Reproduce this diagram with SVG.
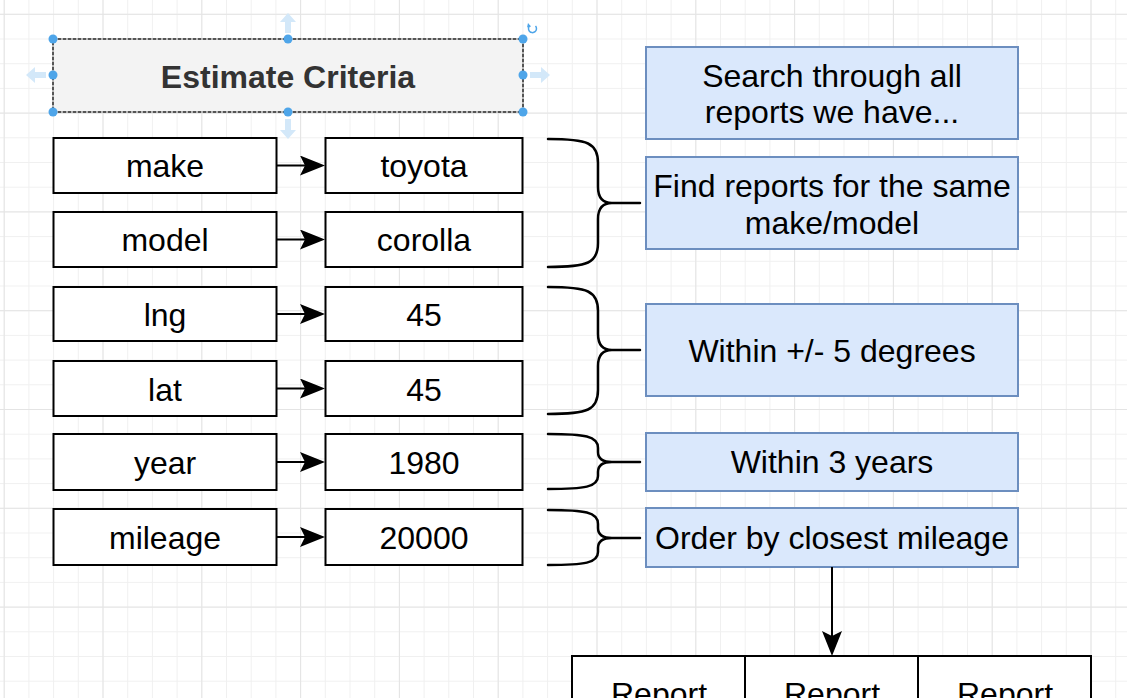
<svg xmlns="http://www.w3.org/2000/svg" width="1127" height="698" viewBox="0 0 1127 698">
<defs>
<style>
.t{font-family:"Liberation Sans",Arial,Helvetica,sans-serif;font-size:32px;fill:#000;text-anchor:middle}
.b{fill:#fff;stroke:#000;stroke-width:2}
.blue{fill:#dae8fc;stroke:#6c8ebf;stroke-width:2}
.ln{fill:none;stroke:#000;stroke-width:2}
.br{fill:none;stroke:#000;stroke-width:2.5;stroke-linecap:round}
.h{fill:#4ea5e9}
.ha{fill:#d3e8f9}
</style>
<pattern id="gm" width="24.7" height="24.7" patternUnits="userSpaceOnUse" x="3.7" y="13.8">
<path d="M0.5,0 V24.7 M0,0.5 H24.7" stroke="#f0f0f0" stroke-width="1" fill="none"/>
</pattern>
<pattern id="gM" width="98.8" height="98.8" patternUnits="userSpaceOnUse" x="3.7" y="13.8">
<path d="M0.5,0 V98.8 M0,0.5 H98.8" stroke="#e4e4e4" stroke-width="1" fill="none"/>
</pattern>
<marker id="ar" markerUnits="userSpaceOnUse" markerWidth="25" markerHeight="20" refX="20" refY="10" orient="auto">
<path d="M0,0 L25,10 L0,20 L5,10 Z" fill="#000"/>
</marker>
</defs>
<rect width="1127" height="698" fill="#fff"/>
<rect width="1127" height="698" fill="url(#gm)"/>
<rect width="1127" height="698" fill="url(#gM)"/>

<g id="estimate-criteria">
<rect x="53" y="39" width="470" height="73" fill="#f3f3f3" stroke="#b5b5b5" stroke-width="2"/>
<rect x="53" y="39" width="470" height="73" fill="none" stroke="#555" stroke-width="2" stroke-dasharray="3 2"/>
<text x="288" y="88" class="t" style="font-weight:bold;fill:#333">Estimate Criteria</text>
</g>

<g id="selection-handles">
<path class="ha" d="M288,13 L296,22 L291,22 L291,33 L285,33 L285,22 L280,22 Z"/>
<path class="ha" d="M288,139 L296,130 L291,130 L291,119 L285,119 L285,130 L280,130 Z"/>
<path class="ha" d="M26,75 L35,67 L35,72 L46,72 L46,78 L35,78 L35,83 Z"/>
<path class="ha" d="M550,75 L541,67 L541,72 L530,72 L530,78 L541,78 L541,83 Z"/>
<circle class="h" cx="53" cy="39" r="4.5"/><circle class="h" cx="288" cy="39" r="4.5"/><circle class="h" cx="523" cy="39" r="4.5"/>
<circle class="h" cx="53" cy="75" r="4.5"/><circle class="h" cx="523" cy="75" r="4.5"/>
<circle class="h" cx="53" cy="112" r="4.5"/><circle class="h" cx="288" cy="112" r="4.5"/><circle class="h" cx="523" cy="112" r="4.5"/>
<path d="M535.5,26 A4,4 0 1 1 530,25.5" fill="none" stroke="#4ea5e9" stroke-width="1.5"/>
<path d="M528,23 L531,26.5 L527,27.5 Z" fill="#4ea5e9"/>
</g>

<g id="make"><rect class="b" x="53.5" y="138" width="223" height="55"/><text class="t" x="165" y="177">make</text></g>
<g id="toyota"><rect class="b" x="325.5" y="138" width="197" height="55"/><text class="t" x="424" y="177">toyota</text></g>
<g id="model"><rect class="b" x="53.5" y="212" width="223" height="55"/><text class="t" x="165" y="251">model</text></g>
<g id="corolla"><rect class="b" x="325.5" y="212" width="197" height="55"/><text class="t" x="424" y="251">corolla</text></g>
<g id="lng"><rect class="b" x="53.5" y="287" width="223" height="54"/><text class="t" x="165" y="326">lng</text></g>
<g id="lng-value"><rect class="b" x="325.5" y="287" width="197" height="54"/><text class="t" x="424" y="326">45</text></g>
<g id="lat"><rect class="b" x="53.5" y="361" width="223" height="55"/><text class="t" x="165" y="401">lat</text></g>
<g id="lat-value"><rect class="b" x="325.5" y="361" width="197" height="55"/><text class="t" x="424" y="401">45</text></g>
<g id="year"><rect class="b" x="53.5" y="434" width="223" height="56"/><text class="t" x="165" y="474">year</text></g>
<g id="year-value"><rect class="b" x="325.5" y="434" width="197" height="56"/><text class="t" x="424" y="474">1980</text></g>
<g id="mileage"><rect class="b" x="53.5" y="509" width="223" height="56"/><text class="t" x="165" y="549">mileage</text></g>
<g id="mileage-value"><rect class="b" x="325.5" y="509" width="197" height="56"/><text class="t" x="424" y="549">20000</text></g>

<g id="search-all"><rect class="blue" x="646" y="47" width="372" height="92"/><text class="t" x="832" y="87">Search through all</text><text class="t" x="832" y="123">reports we have...</text></g>
<g id="same-make-model"><rect class="blue" x="646" y="157" width="372" height="92"/><text class="t" x="832" y="197">Find reports for the same</text><text class="t" x="832" y="234">make/model</text></g>
<g id="within-degrees"><rect class="blue" x="646" y="304" width="372" height="92"/><text class="t" x="832" y="362">Within +/- 5 degrees</text></g>
<g id="within-years"><rect class="blue" x="646" y="433" width="372" height="58"/><text class="t" x="832" y="473">Within 3 years</text></g>
<g id="order-mileage"><rect class="blue" x="646" y="508" width="372" height="59"/><text class="t" x="832" y="549">Order by closest mileage</text></g>

<g id="reports">
<rect class="b" x="572" y="656" width="519" height="70"/>
<path class="ln" d="M745,656 V698 M918,656 V698"/>
<text class="t" x="659" y="705">Report</text>
<text class="t" x="832" y="705">Report</text>
<text class="t" x="1005" y="705">Report</text>
</g>

<g id="connectors">
<path class="ln" d="M277,165.5 H320" marker-end="url(#ar)"/>
<path class="ln" d="M277,239.5 H320" marker-end="url(#ar)"/>
<path class="ln" d="M277,314 H320" marker-end="url(#ar)"/>
<path class="ln" d="M277,388.5 H320" marker-end="url(#ar)"/>
<path class="ln" d="M277,462 H320" marker-end="url(#ar)"/>
<path class="ln" d="M277,537 H320" marker-end="url(#ar)"/>
<path class="ln" d="M832,567 V651" marker-end="url(#ar)"/>
<path class="br" d="M548,139 C588,139 598,143 598,163 L598,187 C598,197 602,203 612,203 C602,203 598,209 598,219 L598,243 C598,263 588,267 548,267 M610,203 H640"/>
<path class="br" d="M548,287 C588,287 598,291 598,311 L598,334 C598,344 602,350 612,350 C602,350 598,356 598,366 L598,390 C598,410 588,414 548,414 M610,350 H640"/>
<path class="br" d="M548,434 C585,434 598,436 598,448 L598,452 C598,458 602,462 612,462 C602,462 598,466 598,472 L598,476 C598,487 585,489 548,489 M610,462 H640"/>
<path class="br" d="M548,510 C585,510 598,512 598,524 L598,528 C598,534 602,538 612,538 C602,538 598,542 598,548 L598,552 C598,563 585,565 548,565 M610,538 H640"/>
</g>
</svg>
